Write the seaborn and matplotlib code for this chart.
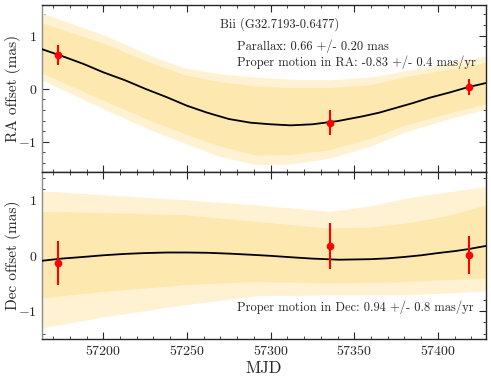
import matplotlib
matplotlib.use("Agg")
import matplotlib.pyplot as plt
import seaborn as sns
import numpy as np
from matplotlib.ticker import MultipleLocator

obs_mjd = [57173.1, 57335.4, 57418.5]
ra_obs = [0.64, -0.64, 0.03]
ra_err = [0.19, 0.23, 0.155]
dec_obs = [-0.13, 0.175, 0.02]
dec_err = [0.39, 0.42, 0.345]

# Modello di best fit (campionato dal grafico)
ra_fit_mjd = [57163, 57175, 57188, 57200, 57213, 57225, 57238, 57250, 57262,
              57275, 57288, 57300, 57312, 57325, 57340, 57355, 57365, 57375,
              57385, 57395, 57407, 57418, 57429]
ra_fit = [0.75, 0.62, 0.47, 0.31, 0.16, 0.0, -0.16, -0.32, -0.45,
          -0.57, -0.64, -0.67, -0.69, -0.67, -0.61, -0.52, -0.45, -0.36,
          -0.27, -0.17, -0.07, 0.03, 0.11]
dec_fit_mjd = [57163, 57175, 57188, 57200, 57213, 57225, 57238, 57250, 57262,
               57275, 57288, 57300, 57312, 57325, 57341, 57360, 57370, 57380,
               57390, 57400, 57410, 57418, 57429]
dec_fit = [-0.09, -0.05, -0.02, 0.01, 0.035, 0.05, 0.06, 0.06, 0.055,
           0.04, 0.02, 0.0, -0.025, -0.05, -0.07, -0.06, -0.045, -0.02,
           0.01, 0.05, 0.085, 0.12, 0.18]

# Inviluppo delle realizzazioni del fit (fascia gialla)
ra_band_mjd = [57163, 57200, 57230, 57249, 57270, 57291, 57312, 57335,
               57360, 57379, 57405, 57429]
ra_outer_hi = [1.43, 1.02, 0.60, 0.39, 0.28, 0.22, 0.18, 0.17, 0.22, 0.33, 0.47, 0.62]
ra_outer_lo = [0.17, -0.38, -0.80, -1.03, -1.28, -1.43, -1.42, -1.31, -1.08, -0.83, -0.58, -0.38]
ra_inner_hi = [1.25, 0.86, 0.47, 0.26, 0.13, 0.05, 0.02, 0.02, 0.08, 0.22, 0.36, 0.50]
ra_inner_lo = [0.30, -0.22, -0.62, -0.85, -1.08, -1.25, -1.24, -1.15, -0.93, -0.70, -0.47, -0.28]

dec_band_mjd = [57163, 57200, 57249, 57291, 57335, 57360, 57381, 57405, 57429]
dec_outer_hi = [1.17, 1.10, 1.01, 0.92, 0.80, 0.90, 1.04, 1.15, 1.25]
dec_outer_lo = [-1.30, -1.10, -0.88, -0.72, -0.70, -0.70, -0.70, -0.67, -0.63]
dec_inner_hi = [0.80, 0.78, 0.74, 0.62, 0.50, 0.52, 0.59, 0.72, 0.92]
dec_inner_lo = [-0.76, -0.64, -0.52, -0.46, -0.49, -0.48, -0.46, -0.43, -0.40]

sns.set_style("ticks")
plt.rcParams['font.family'] = 'serif'
plt.rcParams['font.serif'] = ['cmr10', 'DejaVu Serif']
plt.rcParams['mathtext.fontset'] = 'cm'
plt.rcParams['axes.formatter.use_mathtext'] = True
plt.rcParams['axes.unicode_minus'] = True

fig, (ax1, ax2) = plt.subplots(2, 1, sharex=True, figsize=(4.91, 3.81), dpi=100)
fig.subplots_adjust(left=0.085, right=0.99, top=0.987, bottom=0.11, hspace=0)


def draw_panel(ax, bx, olo, ohi, ilo, ihi, fit_x, fit_y, y, yerr, ylabel):
    ax.fill_between(bx, olo, ohi, color='#fff2d2', lw=0, zorder=1)
    ax.fill_between(bx, ilo, ihi, color='#fde8b0', lw=0, zorder=1)
    sns.lineplot(x=fit_x, y=fit_y, ax=ax, color='black', lw=1.3, zorder=3)
    ax.errorbar(obs_mjd, y, yerr=yerr, fmt='o', color='red', ms=4.5,
                elinewidth=1.5, capsize=0, zorder=4)
    ax.set_ylabel(ylabel, fontsize=11)
    ax.yaxis.set_label_coords(-0.046, 0.5)
    ax.yaxis.set_major_locator(MultipleLocator(1))
    ax.yaxis.set_minor_locator(MultipleLocator(0.2))
    ax.xaxis.set_major_locator(MultipleLocator(50))
    ax.xaxis.set_minor_locator(MultipleLocator(10))
    ax.tick_params(which='both', direction='in', top=True, right=True, labelsize=10)
    ax.tick_params(which='major', length=5)
    ax.tick_params(which='minor', length=2.5)
    for s in ax.spines.values():
        s.set_linewidth(1.0)
    ax.spines['left'].set_color('0.55')


draw_panel(ax1, ra_band_mjd, ra_outer_lo, ra_outer_hi, ra_inner_lo, ra_inner_hi,
           ra_fit_mjd, ra_fit, ra_obs, ra_err, 'RA offset (mas)')
draw_panel(ax2, dec_band_mjd, dec_outer_lo, dec_outer_hi, dec_inner_lo, dec_inner_hi,
           dec_fit_mjd, dec_fit, dec_obs, dec_err, 'Dec offset (mas)')

ax1.set_xlim(57163.2, 57428.8)
ax1.set_ylim(-1.57, 1.58)
ax2.set_ylim(-1.5, 1.51)
ax2.set_xlabel('MJD', fontsize=12, labelpad=2)
ax1.tick_params(labelbottom=False)

ax1.text(0.402, 0.865, 'Bii (G32.7193-0.6477)', transform=ax1.transAxes, fontsize=9)
ax1.text(0.44, 0.728, 'Parallax: 0.66 +/- 0.20 mas', transform=ax1.transAxes, fontsize=9)
ax1.text(0.44, 0.632, 'Proper motion in RA: -0.83 +/- 0.4 mas/yr',
         transform=ax1.transAxes, fontsize=9)
ax2.text(0.44, 0.17, 'Proper motion in Dec: 0.94 +/- 0.8 mas/yr',
         transform=ax2.transAxes, fontsize=9)

plt.savefig('out.png', dpi=100)
